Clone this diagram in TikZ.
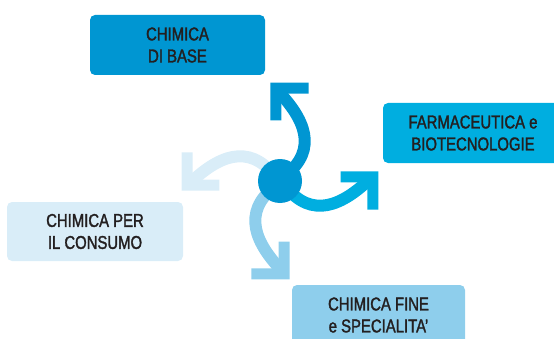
\documentclass[tikz,border=0pt]{standalone}
\usepackage{fontspec}
\setmainfont{Liberation Sans}[FakeStretch=0.80, FakeBold=1.6]
\definecolor{cA}{RGB}{0,150,210}
\definecolor{cB}{RGB}{0,174,224}
\definecolor{cC}{RGB}{142,206,236}
\definecolor{cD}{RGB}{217,237,248}
\definecolor{txt}{RGB}{35,31,32}
\tikzset{
  sector/.style={rounded corners=5pt, inner sep=0pt, minimum width=175pt, minimum height=60pt,
    align=center, text=txt, font=\fontsize{18.6}{22}\selectfont},
  shaft/.style={line width=12pt},
}
\begin{document}
\begin{tikzpicture}[x=1pt,y=1pt]
\useasboundingbox (0,0) rectangle (554,338);
\clip (0,0) rectangle (554,338);
\coordinate (c) at (280,157);
% boxes
\node[sector, fill=cA] (base) at (177.5,293) {CHIMICA\\DI BASE};
\node[sector, fill=cB, minimum width=180pt] (farma) at (473,205) {FARMACEUTICA e\\BIOTECNOLOGIE};
\node[sector, fill=cD, minimum width=176pt, minimum height=59pt] (consumo) at (95,106.5) {CHIMICA PER\\IL CONSUMO};
\node[sector, fill=cC, minimum width=173pt] (fine) at (378.5,23) {CHIMICA FINE\\e SPECIALITA'};
% pinwheel arrows
\foreach \ang/\col in {90/cD, 180/cC, -90/cB, 0/cA}{
  \begin{scope}[shift={(c)}, rotate=\ang]
    \draw[shaft, \col] (6,6) .. controls (38,32) and (25,62) .. (-3,91);
    \fill[\col] (-9.7,98.4) -- (28.6,98.4) -- (28.6,87.4) -- (1.3,87.4) -- (1.3,60.7) -- (-9.7,60.7) -- cycle;
  \end{scope}
}
\node[circle, fill=cA, minimum size=44pt, inner sep=0pt] (hub) at (c) {};
\end{tikzpicture}
\end{document}
